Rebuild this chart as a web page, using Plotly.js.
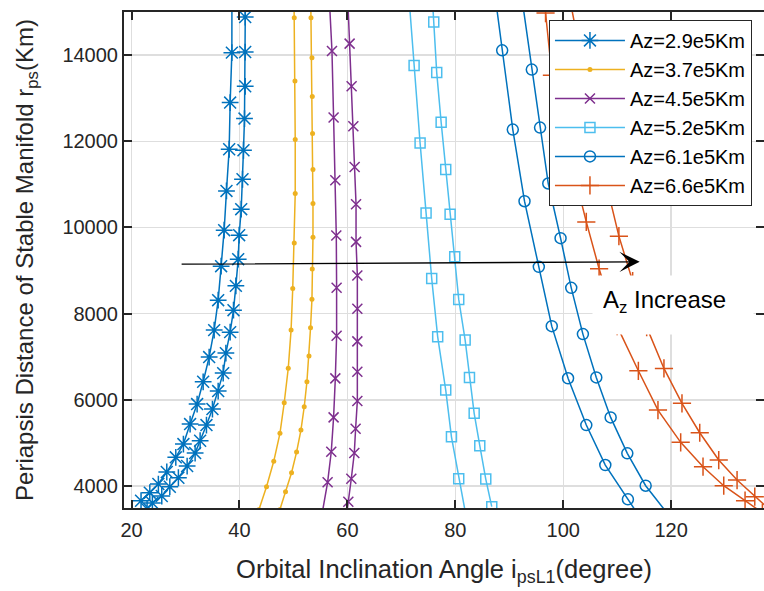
<!DOCTYPE html>
<html>
<head>
<meta charset="utf-8">
<script src="https://cdn.plot.ly/plotly-3.0.1.min.js"></script>
<style>
  html, body { margin: 0; padding: 0; background: #fff; }
  #chart { width: 764px; height: 591px; }
</style>
</head>
<body>
<div id="chart"></div>
<script>
// Periapsis distance vs. orbital inclination for the stable manifolds,
// two branches per Az amplitude.

// Az = 2.9e5 km
const az29_a_x = [38.6, 38.59, 38.27, 38.09, 37.59, 37.16, 36.60, 36.05, 35.31, 34.38, 33.27, 32.15, 30.85, 29.61, 28.20, 26.53, 24.97, 23.38, 21.76];
const az29_a_y = [15400, 14057, 12898, 11815, 10848, 9937, 9102, 8313, 7618, 6992, 6419, 5902, 5438, 4974, 4666, 4325, 4046, 3845, 3659];
const az29_b_x = [41.1, 41.06, 41.06, 41.06, 40.93, 40.74, 40.56, 40.32, 39.94, 39.76, 39.33, 38.89, 38.27, 37.48, 36.98, 36.05, 34.99, 33.88, 32.71, 31.78, 30.30, 28.68, 27.09, 25.60, 23.86, 22.88];
const az29_b_y = [15400, 14883, 14071, 13276, 12527, 11792, 11119, 10424, 9821, 9264, 8645, 8081, 7571, 7084, 6620, 6203, 5786, 5415, 5050, 4765, 4464, 4192, 3984, 3768, 3606, 3467];

// Az = 3.7e5 km
const az37_a_x = [50.1, 50.15, 50.28, 50.33, 50.33, 50.15, 49.87, 49.56, 49.04, 48.29, 47.50, 46.35, 45.01, 43.6];
const az37_a_y = [15400, 14869, 13399, 12040, 10788, 9642, 8585, 7618, 6732, 5932, 5222, 4573, 3984, 3450];
const az37_b_x = [53.2, 53.25, 53.43, 53.49, 53.54, 53.62, 53.62, 53.62, 53.49, 53.43, 53.17, 52.88, 52.50, 52.00, 51.39, 50.58, 49.65, 48.53, 47.48];
const az37_b_y = [15400, 14869, 13941, 13037, 12179, 11344, 10556, 9774, 9039, 8337, 7671, 7015, 6419, 5839, 5299, 4788, 4308, 3868, 3450];

// Az = 4.5e5 km
const az45_a_x = [56.65, 57.14, 57.44, 57.76, 57.94, 58.00, 58.00, 57.76, 57.44, 57.01, 56.33, 55.3];
const az45_a_y = [15300, 14095, 12550, 11096, 9814, 8599, 7485, 6498, 5593, 4795, 4086, 3350];
const az45_b_x = [60.07, 60.41, 60.78, 61.10, 61.34, 61.60, 61.60, 61.84, 61.84, 61.84, 61.84, 61.84, 61.52, 61.28, 60.72, 60.17, 59.6];
const az45_b_y = [15300, 14266, 13276, 12348, 11405, 10540, 9665, 8886, 8112, 7356, 6651, 5971, 5329, 4765, 4169, 3636, 3100];

// Az = 5.2e5 km
const az52_a_x = [71.43, 72.36, 73.47, 74.58, 75.62, 76.73, 78.22, 79.28, 80.63, 82.0];
const az52_a_y = [15300, 13756, 11961, 10338, 8817, 7462, 6226, 5143, 4169, 3290];
const az52_b_x = [75.75, 76.00, 76.55, 77.37, 78.22, 79.03, 79.89, 80.63, 81.82, 82.62, 83.49, 84.53, 85.64, 86.75];
const az52_b_y = [15300, 14767, 13594, 12441, 11344, 10308, 9318, 8330, 7386, 6521, 5686, 4935, 4162, 3520];

// Az = 6.1e5 km
const az61_a_x = [87.45, 88.68, 90.65, 92.82, 95.47, 97.87, 100.89, 104.27, 107.79, 111.98, 113.9];
const az61_a_y = [15300, 14111, 12272, 10609, 9086, 7710, 6500, 5415, 4487, 3692, 3330];
const az61_b_x = [92.36, 94.17, 95.70, 97.22, 99.50, 101.48, 103.64, 106.12, 108.78, 111.87, 115.27, 119.5];
const az61_b_y = [15300, 13663, 12318, 11020, 9751, 8599, 7525, 6521, 5593, 4758, 4007, 3330];

// Az = 6.6e5 km
const az66_a_x = [96.72, 97.9, 100.47, 104.27, 106.64, 109.98, 113.92, 117.55, 121.76, 125.90, 129.74, 133.69, 136.9];
const az66_a_y = [14976, 13531, 12024, 10129, 9043, 7710, 6674, 5762, 5013, 4448, 4007, 3659, 3380];
const az66_b_x = [101.35, 104.88, 106.92, 110.31, 112.86, 115.46, 118.66, 122.00, 125.29, 128.81, 132.21, 135.49, 138.3];
const az66_b_y = [15220, 12951, 11560, 9798, 8754, 7687, 6729, 5918, 5236, 4603, 4139, 3752, 3443];

const seriesNames = ['Az=2.9e5Km', 'Az=3.7e5Km', 'Az=4.5e5Km', 'Az=5.2e5Km', 'Az=6.1e5Km', 'Az=6.6e5Km'];
const xTicks = [20, 40, 60, 80, 100, 120];
const yTicks = [4000, 6000, 8000, 10000, 12000, 14000];

const FONT = '"Liberation Sans", Arial, Helvetica, sans-serif';
const INK = '#262626';

// One trace per amplitude: both branches joined with a gap.
function family(name, ax, ay, bx, by, color, symbol, size, filled) {
  return {
    type: 'scatter',
    mode: 'lines+markers',
    name: name,
    legendgroup: name,
    x: ax.concat([null], bx),
    y: ay.concat([null], by),
    connectgaps: false,
    line: { color: color, width: 1.5 },
    marker: filled
      ? { symbol: symbol, size: size, color: color }
      : { symbol: symbol, size: size, color: color, line: { color: color, width: 1.5 } },
    cliponaxis: true
  };
}

const traces = [
  family(seriesNames[0], az29_a_x, az29_a_y, az29_b_x, az29_b_y, '#0072BD', 'asterisk-open', 14, false),
  family(seriesNames[1], az37_a_x, az37_a_y, az37_b_x, az37_b_y, '#EDB120', 'circle', 5, true),
  family(seriesNames[2], az45_a_x, az45_a_y, az45_b_x, az45_b_y, '#7E2F8E', 'x-thin-open', 10, false),
  family(seriesNames[3], az52_a_x, az52_a_y, az52_b_x, az52_b_y, '#4DBEEE', 'square-open', 10, false),
  family(seriesNames[4], az61_a_x, az61_a_y, az61_b_x, az61_b_y, '#0072BD', 'circle-open', 11, false),
  family(seriesNames[5], az66_a_x, az66_a_y, az66_b_x, az66_b_y, '#D95319', 'cross-thin-open', 13, false)
];

const axisCommon = {
  showline: true, linecolor: INK, linewidth: 2,
  mirror: 'ticks', ticks: 'inside', ticklen: 8, tickwidth: 2, tickcolor: INK,
  showgrid: true, gridcolor: '#dedede', gridwidth: 1.5,
  zeroline: false,
  tickfont: { family: FONT, size: 20, color: INK },
  automargin: false
};

const layout = {
  width: 764, height: 591,
  margin: { l: 124, r: 0, t: 12, b: 83 },
  paper_bgcolor: '#fff', plot_bgcolor: '#fff',
  font: { family: FONT, color: INK },
  showlegend: true,
  xaxis: Object.assign({}, axisCommon, {
    range: [18.6, 137.2],
    tickmode: 'array', tickvals: xTicks, ticktext: xTicks.map(String),
    ticklabelstandoff: 3,
    title: { text: 'Orbital Inclination Angle i<sub>psL1</sub>(degree)', font: { family: FONT, size: 25.5, color: INK }, standoff: 20 }
  }),
  yaxis: Object.assign({}, axisCommon, {
    range: [3490, 15000],
    tickmode: 'array', tickvals: yTicks, ticktext: yTicks.map(String),
    title: { text: 'Periapsis Distance of Stable Manifold r<sub>ps</sub>(Km)', font: { family: FONT, size: 24, color: INK }, standoff: 22 }
  }),
  legend: {
    x: 0.664, y: 0.984, xanchor: 'left', yanchor: 'top',
    bgcolor: '#fff', bordercolor: INK, borderwidth: 1,
    font: { family: FONT, size: 20, color: '#000' },
    itemwidth: 70, traceorder: 'grouped', tracegroupgap: 0
  },
  annotations: [
    {
      xref: 'x', yref: 'y', axref: 'x', ayref: 'y',
      x: 114.16, y: 9202, ax: 29.0, ay: 9148,
      showarrow: true, text: '', arrowhead: 3, arrowsize: 2.6, arrowwidth: 1.3, arrowcolor: '#000'
    },
    {
      xref: 'x', yref: 'y', x: 105.25, y: 8893, xanchor: 'left', yanchor: 'top',
      text: 'A<sub>z</sub> Increase', showarrow: false,
      bgcolor: '#fff', borderpad: 10, width: 140, height: 38, align: 'left', valign: 'top',
      font: { family: FONT, size: 24, color: '#000' }
    }
  ]
};

Plotly.newPlot('chart', traces, layout, { displayModeBar: false, staticPlot: true });
</script>
</body>
</html>
